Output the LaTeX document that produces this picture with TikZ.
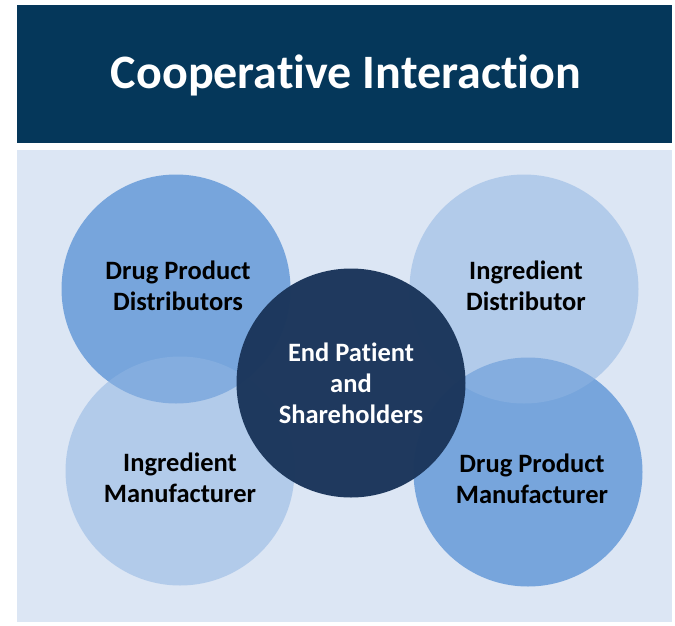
\documentclass[tikz,border=0pt]{standalone}
\usepackage{fontspec}
\setmainfont{Carlito}[Ligatures=NoCommon]
\definecolor{titlebg}{HTML}{05375A}
\definecolor{panelbg}{HTML}{DCE6F4}
\definecolor{midblue}{HTML}{77A5DC}
\definecolor{paleblue}{HTML}{90B5E2}
\definecolor{navy}{HTML}{1C375C}
\tikzset{
  x=1pt, y=-1pt,
  ring/.style={circle, minimum size=229pt, inner sep=0pt},
  strong/.style={ring, fill=midblue},
  soft/.style={ring, fill=paleblue, fill opacity=0.55},
  hub/.style={ring, fill=navy, fill opacity=0.985},
  label/.style={align=center, font=\fontsize{26.5}{31}\selectfont\bfseries, text=black},
  hublabel/.style={label, text=white},
}
\begin{document}
\begin{tikzpicture}
  \useasboundingbox (0,0) rectangle (675,625);
  \fill[white] (0,0) rectangle (675,625);
  % title banner
  \fill[titlebg] (17,5) rectangle (672,143);
  \node[text=white, font=\fontsize{48}{54}\selectfont\bfseries] (title) at (346,75) {Cooperative Interaction};
  % light panel
  \fill[panelbg] (17,150) rectangle (672,622);
  % outer circles
  \node[strong] (dpd) at (176,289) {};
  \node[strong] (dpm) at (528,472) {};
  \node[soft] (ind) at (524,289) {};
  \node[soft] (inm) at (180,471) {};
  % central circle
  \node[hub] (hub) at (351,383) {};
  % labels
  \node[label] (tdpd) at (178,286) {Drug Product\\Distributors};
  \node[label] (tind) at (526,286) {Ingredient\\Distributor};
  \node[label] (tinm) at (180,478) {Ingredient\\Manufacturer};
  \node[label] (tdpm) at (532,479) {Drug Product\\Manufacturer};
  \node[hublabel] (thub) at (351,383) {End Patient\\and\\Shareholders};
\end{tikzpicture}
\end{document}
